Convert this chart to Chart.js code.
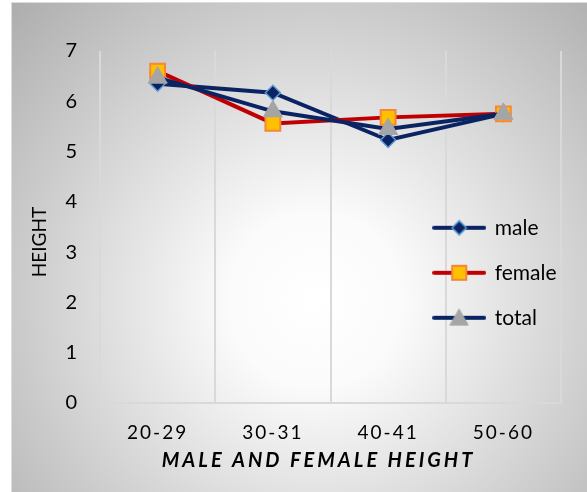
<!DOCTYPE html>
<html>
<head>
<meta charset="utf-8">
<script src="https://cdn.jsdelivr.net/npm/chart.js@4/dist/chart.umd.min.js"></script>
<style>
  html, body { margin: 0; padding: 0; background: #ffffff; }
  #chart { display: block; }
</style>
</head>
<body>
<canvas id="chart" width="587" height="492"></canvas>
<script>
// Age groups and average heights per group
const categories = ['20-29', '30-31', '40-41', '50-60'];
const maleHeights = [6.35, 6.17, 5.23, 5.75];
const femaleHeights = [6.6, 5.56, 5.68, 5.75];
const totalHeights = [6.47, 5.8, 5.45, 5.75];
const seriesNames = ['male', 'female', 'total'];
const yTicks = [0, 1, 2, 3, 4, 5, 6, 7];

const FONT = 'Lato, "Open Sans", "DejaVu Sans", sans-serif';
const NAVY = '#0a2463';
const RED = '#c00000';

// Category axis with tracked-out lettering for labels and title
class SpacedCategoryScale extends Chart.CategoryScale {
  static id = 'spacedCategory';
  drawLabels(area) {
    const c = this.ctx; c.save(); c.letterSpacing = '2px';
    super.drawLabels(area); c.restore();
  }
  drawTitle() {
    const c = this.ctx; c.save(); c.letterSpacing = '3px'; c.translate(-12, 0);
    super.drawTitle(); c.restore();
  }
}
// Value axis whose title sits a little below the middle of the plot
class OffsetTitleLinearScale extends Chart.LinearScale {
  static id = 'offsetTitleLinear';
  drawTitle() {
    const c = this.ctx; c.save(); c.translate(0, 15);
    super.drawTitle(); c.restore();
  }
}
Chart.register(SpacedCategoryScale, OffsetTitleLinearScale);

// Marker styles for each series
const markers = [
  { pointStyle: 'rectRot', radius: 7.5, fill: NAVY, stroke: '#5b9bd5', width: 1.5 },
  { pointStyle: 'rect', radius: 10.5, fill: '#ffc000', stroke: '#f5863a', width: 2 },
  { pointStyle: 'triangle', radius: 11, fill: '#a5a5a5', stroke: '#a5a5a5', width: 1 }
];
const lineColors = [NAVY, RED, NAVY];

// Legend swatch: a short line segment with the marker in its middle
function legendSwatch(i) {
  const cv = document.createElement('canvas');
  cv.width = 54; cv.height = 24;
  const c = cv.getContext('2d');
  c.strokeStyle = lineColors[i];
  c.lineWidth = 4;
  c.lineCap = 'round';
  c.beginPath(); c.moveTo(2, 12); c.lineTo(52, 12); c.stroke();
  const m = markers[i];
  c.fillStyle = m.fill; c.strokeStyle = m.stroke; c.lineWidth = m.width;
  Chart.helpers.drawPoint(c, { pointStyle: m.pointStyle, radius: m.radius * 0.95, borderWidth: m.width, rotation: 0 }, 27, i === 2 ? 14 : 12);
  return cv;
}
const swatches = [0, 1, 2].map(legendSwatch);

// Panel background: soft radial shading with a thin frame
const panelBackground = {
  id: 'panelBackground',
  beforeDraw(chart) {
    const c = chart.ctx;
    c.save();
    c.fillStyle = '#ffffff';
    c.fillRect(0, 0, chart.width, chart.height);
    const g = c.createRadialGradient(315, 300, 0, 315, 300, 430);
    g.addColorStop(0, '#ffffff');
    g.addColorStop(0.2, '#fbfbfb');
    g.addColorStop(1, '#acacac');
    c.fillStyle = g;
    c.fillRect(12, 3, chart.width - 12, chart.height - 3);
    c.strokeStyle = '#dcdcdc';
    c.lineWidth = 1;
    c.strokeRect(11.5, 2.5, chart.width + 10, chart.height + 10);
    c.restore();
  }
};

// Place the legend inside the plot, towards the right
const legendPlacement = {
  id: 'legendPlacement',
  afterLayout(chart) {
    const lg = chart.legend, ca = chart.chartArea;
    if (!lg) return;
    const w = lg.width;
    lg.left = ca.left + ca.width * 0.725 - lg.options.labels.padding;
    lg.right = lg.left + w;
    const cy = ca.top + ca.height * 0.63;
    lg.top = cy - 100;
    lg.bottom = cy + 100;
    lg.height = 200;
  }
};

function series(i, data, order) {
  const m = markers[i];
  return {
    label: seriesNames[i],
    data,
    order,
    borderColor: lineColors[i],
    borderWidth: 4,
    tension: 0,
    pointStyle: m.pointStyle,
    pointRadius: m.radius,
    pointHoverRadius: m.radius,
    pointBackgroundColor: m.fill,
    pointBorderColor: m.stroke,
    pointBorderWidth: m.width
  };
}

new Chart(document.getElementById('chart'), {
  type: 'line',
  data: {
    labels: categories,
    datasets: [
      series(0, maleHeights, 2),
      series(1, femaleHeights, 1),
      series(2, totalHeights, 0)
    ]
  },
  plugins: [panelBackground, legendPlacement],
  options: {
    responsive: false,
    animation: false,
    layout: { padding: { left: 12, top: 51, right: 26, bottom: 0 } },
    plugins: {
      tooltip: { enabled: false },
      legend: {
        position: 'chartArea',
        align: 'center',
        labels: {
          usePointStyle: true,
          pointStyleWidth: 50,
          padding: 24,
          color: '#000000',
          font: { family: FONT, size: 21 },
          sort: (a, b) => a.datasetIndex - b.datasetIndex,
          generateLabels(chart) {
            const items = Chart.defaults.plugins.legend.labels.generateLabels(chart);
            items.forEach(it => { it.pointStyle = swatches[it.datasetIndex]; });
            return items;
          }
        }
      }
    },
    scales: {
      x: {
        type: 'spacedCategory',
        offset: true,
        grid: { offset: true, color: '#d9d9d9', lineWidth: 2, drawTicks: false },
        border: { display: true, color: '#d9d9d9', width: 2 },
        ticks: { color: '#000000', padding: 18, font: { family: FONT, size: 19 } },
        title: {
          display: true,
          text: 'MALE AND FEMALE HEIGHT',
          color: '#000000',
          font: { family: FONT, size: 20, weight: 'bold', style: 'italic' },
          padding: { top: 0, bottom: 19 }
        },
        afterFit(scale) { scale.height = 89; }
      },
      y: {
        type: 'offsetTitleLinear',
        min: 0,
        max: 7,
        afterBuildTicks(scale) { scale.ticks = yTicks.map(v => ({ value: v })); },
        grid: { display: false, drawTicks: false },
        border: { display: false },
        ticks: { color: '#000000', padding: 23, font: { family: FONT, size: 20 } },
        title: {
          display: true,
          text: 'HEIGHT',
          color: '#000000',
          font: { family: FONT, size: 19 },
          padding: { top: 16, bottom: 0 }
        },
        afterFit(scale) { scale.width = 88; }
      }
    }
  }
});
</script>
</body>
</html>
